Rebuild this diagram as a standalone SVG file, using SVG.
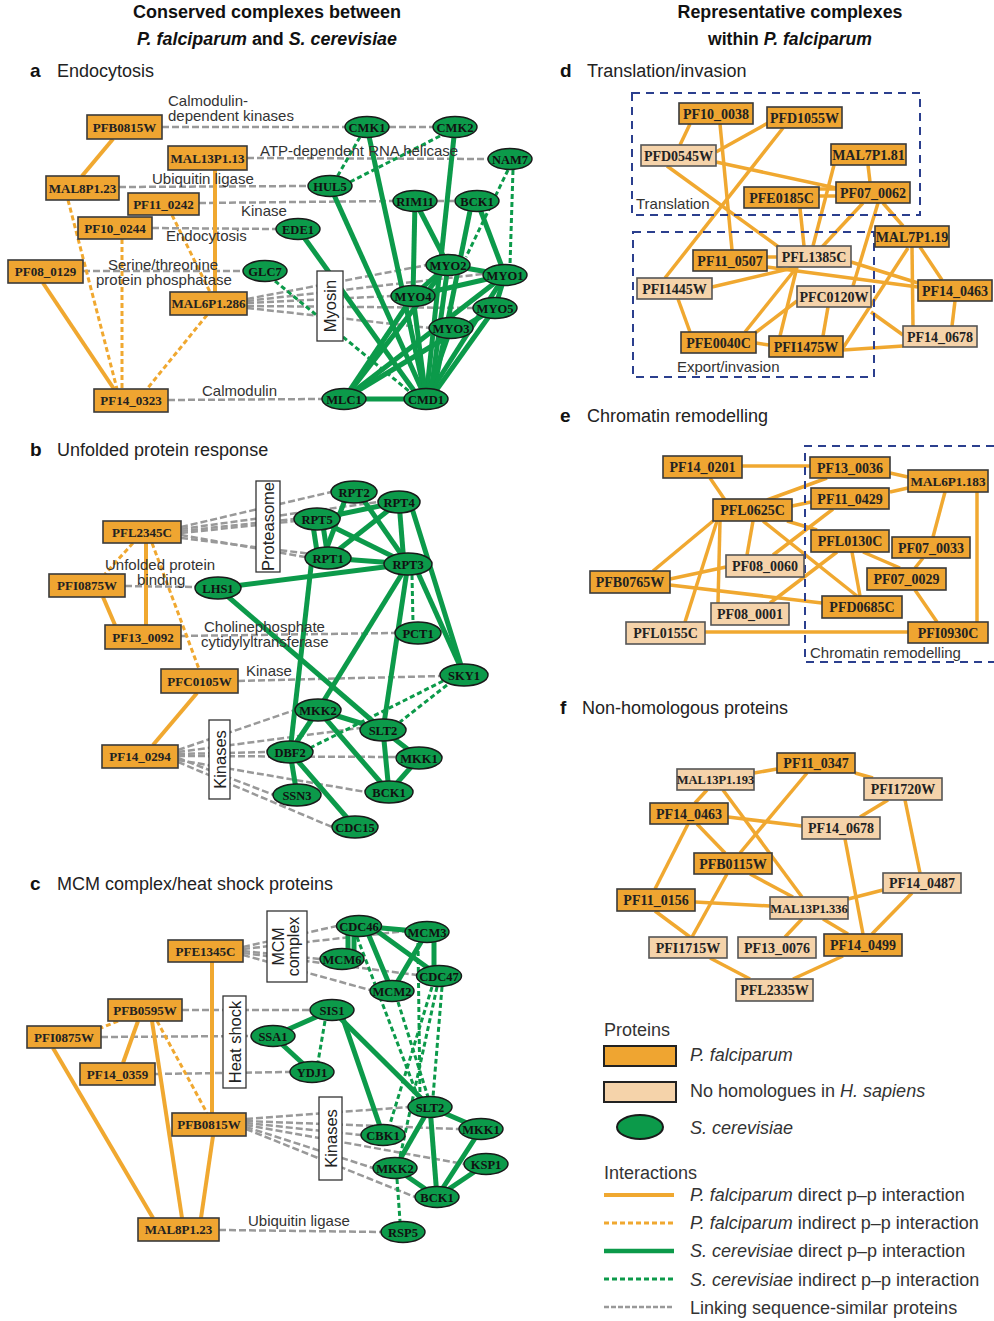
<svg xmlns="http://www.w3.org/2000/svg" width="994" height="1321" viewBox="0 0 994 1321">
<style>
.po{fill:#EFA531;stroke:#3a3a3a;stroke-width:1.6}
.pl{fill:#F5D3AA;stroke:#555;stroke-width:1.6}
.sc{fill:#0C9A4A;stroke:#1a1a1a;stroke-width:1.5}
.nt{font-family:"Liberation Serif","DejaVu Serif",serif;font-weight:bold;font-size:13px;fill:#222;text-anchor:middle}
.nt2{font-family:"Liberation Serif","DejaVu Serif",serif;font-weight:bold;font-size:14px;fill:#222;text-anchor:middle}
.et{font-family:"Liberation Serif","DejaVu Serif",serif;font-weight:bold;font-size:12.5px;fill:#111;text-anchor:middle}
.lab{font-family:"Liberation Sans",Arial,sans-serif;font-size:15px;fill:#333}
.rl{font-family:"Liberation Sans",Arial,sans-serif;font-size:16.5px;fill:#222;text-anchor:middle}
.box{fill:#fff;stroke:#333;stroke-width:1.3}
.head{font-family:"Liberation Sans",Arial,sans-serif;font-size:18px;font-weight:bold;fill:#111;text-anchor:middle}
.sec{font-family:"Liberation Sans",Arial,sans-serif;font-size:18px;fill:#222}
.secl{font-family:"Liberation Sans",Arial,sans-serif;font-size:19px;font-weight:bold;fill:#111}
.leg{font-family:"Liberation Sans",Arial,sans-serif;font-size:18px;fill:#333}
.od{stroke:#F0A830;stroke-width:4;fill:none}
.od2{stroke:#F0A830;stroke-width:3.5;fill:none}
.oi{stroke:#F0A830;stroke-width:3;stroke-dasharray:5 3;fill:none}
.gd{stroke:#0C9A4A;stroke-width:5;fill:none}
.gi{stroke:#0C9A4A;stroke-width:3;stroke-dasharray:5 3;fill:none}
.gr{stroke:#999;stroke-width:2.5;stroke-dasharray:7 3;fill:none}
.db{stroke:#2B3F8E;stroke-width:2;stroke-dasharray:8 6;fill:none}
</style>

<!-- Headings -->
<g id="headings">
<text class="head" x="267" y="18" textLength="268" lengthAdjust="spacingAndGlyphs">Conserved complexes between</text>
<text class="head" x="267" y="45" textLength="260" lengthAdjust="spacingAndGlyphs"><tspan font-style="italic">P. falciparum</tspan> and <tspan font-style="italic">S. cerevisiae</tspan></text>
<text class="head" x="790" y="18" textLength="225" lengthAdjust="spacingAndGlyphs">Representative complexes</text>
<text class="head" x="790" y="45" textLength="164" lengthAdjust="spacingAndGlyphs">within <tspan font-style="italic">P. falciparum</tspan></text>
<text class="secl" x="30" y="77">a</text><text class="sec" x="57" y="77">Endocytosis</text>
<text class="secl" x="30" y="456">b</text><text class="sec" x="57" y="456">Unfolded protein response</text>
<text class="secl" x="30" y="890">c</text><text class="sec" x="57" y="890">MCM complex/heat shock proteins</text>
<text class="secl" x="560" y="77">d</text><text class="sec" x="587" y="77">Translation/invasion</text>
<text class="secl" x="560" y="422">e</text><text class="sec" x="587" y="422">Chromatin remodelling</text>
<text class="secl" x="560" y="714">f</text><text class="sec" x="582" y="714">Non-homologous proteins</text>
</g>

<!-- Connectors -->
<g id="connectors">
<!-- panel a gray -->
<g class="gr">
<line x1="162" y1="127" x2="345" y2="127"/>
<line x1="389" y1="127" x2="433" y2="127"/>
<line x1="247" y1="158" x2="488" y2="159"/>
<line x1="119" y1="187" x2="308" y2="186"/>
<line x1="199" y1="203" x2="393" y2="201"/>
<line x1="437" y1="201" x2="455" y2="201"/>
<line x1="152" y1="228" x2="276" y2="229"/>
<line x1="83" y1="271" x2="243" y2="271"/>
<line x1="247" y1="299" x2="427" y2="265"/>
<line x1="247" y1="301" x2="483" y2="274"/>
<line x1="247" y1="303" x2="392" y2="296"/>
<line x1="247" y1="306" x2="473" y2="308"/>
<line x1="247" y1="308" x2="430" y2="328"/>
<line x1="168" y1="400" x2="322" y2="399"/>
</g>
<!-- panel a orange -->
<line class="od" x1="113" y1="139" x2="82" y2="176"/>
<line class="od" x1="215" y1="170" x2="215" y2="292"/>
<line class="od" x1="43" y1="283" x2="114" y2="389"/>
<line class="oi" x1="68" y1="200" x2="117" y2="389"/>
<line class="oi" x1="122" y1="239" x2="122" y2="389"/>
<line class="oi" x1="172" y1="215" x2="210" y2="292"/>
<line class="oi" x1="207" y1="315" x2="147" y2="389"/>
<!-- panel a green -->
<g class="gd">
<line x1="367" y1="127" x2="426" y2="399"/>
<line x1="455" y1="127" x2="426" y2="399"/>
<line x1="330" y1="186" x2="426" y2="399"/>
<line x1="298" y1="229" x2="420" y2="399"/>
<line x1="415" y1="201" x2="413" y2="296"/>
<line x1="415" y1="201" x2="448" y2="265"/>
<line x1="477" y1="201" x2="505" y2="275"/>
<line x1="472" y1="201" x2="432" y2="399"/>
<line x1="448" y1="265" x2="505" y2="275"/>
<line x1="448" y1="265" x2="413" y2="296"/>
<line x1="448" y1="265" x2="344" y2="399"/>
<line x1="448" y1="265" x2="430" y2="399"/>
<line x1="413" y1="296" x2="505" y2="275"/>
<line x1="413" y1="296" x2="344" y2="399"/>
<line x1="413" y1="296" x2="426" y2="399"/>
<line x1="505" y1="275" x2="344" y2="399"/>
<line x1="505" y1="275" x2="426" y2="399"/>
<line x1="505" y1="275" x2="495" y2="308"/>
<line x1="495" y1="308" x2="430" y2="399"/>
<line x1="495" y1="308" x2="344" y2="399"/>
<line x1="451" y1="328" x2="426" y2="399"/>
<line x1="344" y1="399" x2="426" y2="399"/>
</g>
<g class="gi">
<line x1="360" y1="137" x2="337" y2="177"/>
<line x1="440" y1="136" x2="350" y2="182"/>
<line x1="508" y1="170" x2="466" y2="257"/>
<line x1="513" y1="170" x2="510" y2="265"/>
<line x1="275" y1="281" x2="410" y2="392"/>
</g>

<!-- panel b gray -->
<g class="gr">
<line x1="181" y1="527" x2="331" y2="492"/>
<line x1="181" y1="529" x2="378" y2="502"/>
<line x1="181" y1="531" x2="294" y2="519"/>
<line x1="181" y1="533" x2="296" y2="521"/>
<line x1="181" y1="535" x2="305" y2="557"/>
<line x1="181" y1="538" x2="385" y2="563"/>
<line x1="125" y1="586" x2="195" y2="587"/>
<line x1="181" y1="636" x2="395" y2="633"/>
<line x1="238" y1="681" x2="441" y2="676"/>
<line x1="178" y1="750" x2="295" y2="710"/>
<line x1="178" y1="752" x2="360" y2="728"/>
<line x1="178" y1="754" x2="267" y2="752"/>
<line x1="178" y1="756" x2="396" y2="757"/>
<line x1="178" y1="758" x2="274" y2="795"/>
<line x1="178" y1="760" x2="366" y2="792"/>
<line x1="178" y1="762" x2="332" y2="827"/>
</g>
<!-- panel b orange -->
<line class="od" x1="146" y1="543" x2="146" y2="625"/>
<line class="od" x1="103" y1="597" x2="115" y2="625"/>
<line class="od" x1="197" y1="693" x2="153" y2="745"/>
<line class="oi" x1="133" y1="543" x2="105" y2="574"/>
<line class="oi" x1="152" y1="543" x2="199" y2="669"/>
<!-- panel b green -->
<g class="gd">
<line x1="348" y1="492" x2="323" y2="558"/>
<line x1="358" y1="492" x2="408" y2="564"/>
<line x1="312" y1="519" x2="318" y2="558"/>
<line x1="322" y1="519" x2="328" y2="558"/>
<line x1="317" y1="519" x2="408" y2="564"/>
<line x1="399" y1="502" x2="317" y2="519"/>
<line x1="399" y1="502" x2="328" y2="558"/>
<line x1="399" y1="502" x2="404" y2="564"/>
<line x1="410" y1="502" x2="464" y2="675"/>
<line x1="328" y1="558" x2="408" y2="564"/>
<line x1="312" y1="558" x2="290" y2="752"/>
<line x1="408" y1="564" x2="318" y2="710"/>
<line x1="408" y1="564" x2="383" y2="730"/>
<line x1="414" y1="564" x2="464" y2="675"/>
<line x1="218" y1="588" x2="408" y2="564"/>
<line x1="218" y1="588" x2="383" y2="730"/>
<line x1="318" y1="710" x2="383" y2="730"/>
<line x1="318" y1="710" x2="290" y2="752"/>
<line x1="318" y1="710" x2="389" y2="792"/>
<line x1="290" y1="752" x2="297" y2="795"/>
<line x1="290" y1="752" x2="355" y2="827"/>
<line x1="383" y1="730" x2="389" y2="792"/>
<line x1="383" y1="730" x2="419" y2="758"/>
<line x1="419" y1="758" x2="389" y2="792"/>
</g>
<g class="gi">
<line x1="412" y1="575" x2="413" y2="622"/>
<line x1="443" y1="681" x2="310" y2="748"/>
<line x1="447" y1="685" x2="400" y2="722"/>
</g>

<!-- panel c gray -->
<g class="gr">
<line x1="243" y1="947" x2="337" y2="926"/>
<line x1="243" y1="949" x2="406" y2="931"/>
<line x1="243" y1="951" x2="320" y2="959"/>
<line x1="243" y1="953" x2="417" y2="975"/>
<line x1="243" y1="955" x2="370" y2="990"/>
<line x1="182" y1="1010" x2="310" y2="1010"/>
<line x1="101" y1="1037" x2="251" y2="1036"/>
<line x1="155" y1="1074" x2="290" y2="1072"/>
<line x1="246" y1="1119" x2="408" y2="1107"/>
<line x1="246" y1="1121" x2="459" y2="1129"/>
<line x1="246" y1="1123" x2="361" y2="1135"/>
<line x1="246" y1="1125" x2="464" y2="1164"/>
<line x1="246" y1="1127" x2="373" y2="1168"/>
<line x1="246" y1="1129" x2="415" y2="1197"/>
<line x1="219" y1="1230" x2="381" y2="1232"/>
</g>
<!-- panel c orange -->
<line class="od" x1="212" y1="962" x2="212" y2="1113"/>
<line class="od" x1="138" y1="1021" x2="123" y2="1063"/>
<line class="od" x1="152" y1="1021" x2="182" y2="1218"/>
<line class="od" x1="53" y1="1048" x2="153" y2="1218"/>
<line class="od" x1="213" y1="1136" x2="201" y2="1218"/>
<line class="oi" x1="118" y1="1021" x2="101" y2="1028"/>
<line class="oi" x1="157" y1="1021" x2="207" y2="1113"/>
<!-- panel c green -->
<g class="gd">
<line x1="348" y1="930" x2="348" y2="955"/>
<line x1="354" y1="930" x2="354" y2="955"/>
<line x1="359" y1="926" x2="427" y2="932"/>
<line x1="365" y1="926" x2="392" y2="991"/>
<line x1="370" y1="926" x2="439" y2="976"/>
<line x1="427" y1="932" x2="392" y2="991"/>
<line x1="434" y1="932" x2="434" y2="976"/>
<line x1="332" y1="1010" x2="273" y2="1036"/>
<line x1="273" y1="1036" x2="312" y2="1072"/>
<line x1="340" y1="1010" x2="383" y2="1135"/>
<line x1="332" y1="1010" x2="430" y2="1107"/>
<line x1="430" y1="1107" x2="481" y2="1129"/>
<line x1="430" y1="1107" x2="395" y2="1168"/>
<line x1="430" y1="1107" x2="437" y2="1197"/>
<line x1="481" y1="1129" x2="437" y2="1197"/>
<line x1="486" y1="1164" x2="437" y2="1197"/>
<line x1="395" y1="1168" x2="437" y2="1197"/>
</g>
<g class="gi">
<line x1="325" y1="1021" x2="318" y2="1062"/>
<line x1="357" y1="937" x2="418" y2="1097"/>
<line x1="398" y1="1002" x2="428" y2="1097"/>
<line x1="418" y1="943" x2="420" y2="1097"/>
<line x1="432" y1="987" x2="390" y2="1124"/>
<line x1="437" y1="987" x2="400" y2="1157"/>
<line x1="442" y1="987" x2="433" y2="1097"/>
<line x1="397" y1="1179" x2="400" y2="1221"/>
</g>

<!-- panel d -->
<g class="od2">
<line x1="690" y1="124" x2="680" y2="145"/>
<line x1="720" y1="124" x2="732" y2="250"/>
<line x1="768" y1="123" x2="716" y2="152"/>
<line x1="783" y1="128" x2="665" y2="278"/>
<line x1="716" y1="162" x2="836" y2="188"/>
<line x1="667" y1="166" x2="780" y2="248"/>
<line x1="868" y1="165" x2="870" y2="182"/>
<line x1="834" y1="165" x2="813" y2="246"/>
<line x1="819" y1="189" x2="836" y2="189"/>
<line x1="819" y1="196" x2="836" y2="196"/>
<line x1="800" y1="208" x2="804" y2="246"/>
<line x1="863" y1="203" x2="822" y2="247"/>
<line x1="878" y1="203" x2="853" y2="286"/>
<line x1="883" y1="203" x2="903" y2="226"/>
<line x1="920" y1="247" x2="942" y2="280"/>
<line x1="912" y1="247" x2="913" y2="326"/>
<line x1="908" y1="248" x2="843" y2="348"/>
<line x1="767" y1="257" x2="777" y2="257"/>
<line x1="767" y1="267" x2="918" y2="287"/>
<line x1="851" y1="262" x2="918" y2="283"/>
<line x1="797" y1="267" x2="712" y2="287"/>
<line x1="797" y1="267" x2="745" y2="332"/>
<line x1="797" y1="267" x2="780" y2="336"/>
<line x1="678" y1="299" x2="690" y2="332"/>
<line x1="797" y1="301" x2="755" y2="333"/>
<line x1="828" y1="307" x2="823" y2="336"/>
<line x1="871" y1="312" x2="903" y2="335"/>
<line x1="756" y1="343" x2="769" y2="345"/>
<line x1="843" y1="350" x2="903" y2="346"/>
<line x1="955" y1="301" x2="952" y2="326"/>
</g>
<!-- panel e -->
<g class="od2">
<line x1="742" y1="466" x2="810" y2="466"/>
<line x1="710" y1="478" x2="725" y2="500"/>
<line x1="827" y1="478" x2="767" y2="500"/>
<line x1="890" y1="473" x2="908" y2="477"/>
<line x1="890" y1="492" x2="908" y2="488"/>
<line x1="811" y1="502" x2="792" y2="506"/>
<line x1="833" y1="509" x2="773" y2="555"/>
<line x1="787" y1="521" x2="817" y2="530"/>
<line x1="753" y1="521" x2="747" y2="555"/>
<line x1="763" y1="521" x2="857" y2="596"/>
<line x1="713" y1="521" x2="653" y2="571"/>
<line x1="720" y1="521" x2="718" y2="603"/>
<line x1="717" y1="521" x2="685" y2="622"/>
<line x1="670" y1="579" x2="726" y2="567"/>
<line x1="670" y1="585" x2="822" y2="603"/>
<line x1="837" y1="552" x2="770" y2="603"/>
<line x1="852" y1="552" x2="860" y2="596"/>
<line x1="863" y1="552" x2="900" y2="568"/>
<line x1="945" y1="492" x2="933" y2="537"/>
<line x1="977" y1="492" x2="977" y2="622"/>
<line x1="923" y1="558" x2="915" y2="568"/>
<line x1="915" y1="590" x2="937" y2="622"/>
<line x1="705" y1="632" x2="908" y2="632"/>
</g>
<!-- panel f -->
<g class="od2">
<line x1="754" y1="773" x2="777" y2="769"/>
<line x1="855" y1="773" x2="873" y2="778"/>
<line x1="807" y1="773" x2="740" y2="853"/>
<line x1="707" y1="790" x2="695" y2="803"/>
<line x1="723" y1="790" x2="802" y2="897"/>
<line x1="728" y1="817" x2="802" y2="826"/>
<line x1="697" y1="824" x2="725" y2="853"/>
<line x1="688" y1="824" x2="655" y2="889"/>
<line x1="888" y1="800" x2="860" y2="817"/>
<line x1="905" y1="800" x2="920" y2="873"/>
<line x1="845" y1="839" x2="863" y2="934"/>
<line x1="750" y1="874" x2="793" y2="897"/>
<line x1="727" y1="874" x2="692" y2="937"/>
<line x1="695" y1="902" x2="770" y2="906"/>
<line x1="655" y1="911" x2="690" y2="937"/>
<line x1="883" y1="890" x2="848" y2="899"/>
<line x1="912" y1="893" x2="872" y2="934"/>
<line x1="802" y1="919" x2="785" y2="937"/>
<line x1="823" y1="919" x2="848" y2="934"/>
<line x1="710" y1="958" x2="750" y2="979"/>
<line x1="843" y1="956" x2="793" y2="979"/>
</g>
</g>

<!-- Group label boxes -->
<g id="groups">
<rect class="box" x="317" y="271" width="26" height="70"/>
<text class="rl" transform="translate(330,306) rotate(-90)" y="6">Myosin</text>
<rect class="box" x="256" y="481" width="24" height="91"/>
<text class="rl" transform="translate(268,526.5) rotate(-90)" y="6">Proteasome</text>
<rect class="box" x="209" y="720" width="21" height="79"/>
<text class="rl" transform="translate(219.5,759.5) rotate(-90)" y="6">Kinases</text>
<rect class="box" x="267" y="911" width="40" height="71"/>
<g transform="translate(287,946.5) rotate(-90)"><text class="rl" y="-3" style="font-size:16px">MCM</text><text class="rl" y="12" style="font-size:16px">complex</text></g>
<rect class="box" x="223" y="996" width="23" height="92"/>
<text class="rl" transform="translate(234.5,1042) rotate(-90)" y="6">Heat shock</text>
<rect class="box" x="319" y="1097" width="23" height="83"/>
<text class="rl" transform="translate(330.5,1138.5) rotate(-90)" y="6">Kinases</text>
<rect class="db" x="632" y="93" width="288" height="122"/>
<rect class="db" x="633" y="232" width="241" height="145"/>
<path class="db" d="M994,446 H805 V662 H994"/>
<text class="lab" x="636" y="209">Translation</text>
<text class="lab" x="677" y="372">Export/invasion</text>
<text class="lab" x="810" y="658">Chromatin remodelling</text>
</g>

<!-- Panel a nodes -->
<g id="a-PFB0815W"><rect class="po" x="87" y="115" width="75" height="24"/><text class="nt" x="124.5" y="131.5">PFB0815W</text></g>
<g id="a-MAL13P1.13"><rect class="po" x="168" y="146" width="79" height="24"/><text class="nt" x="207.5" y="162.5">MAL13P1.13</text></g>
<g id="a-MAL8P1.23"><rect class="po" x="46" y="176" width="73" height="24"/><text class="nt" x="82.5" y="192.5">MAL8P1.23</text></g>
<g id="a-PF11_0242"><rect class="po" x="128" y="193" width="71" height="22"/><text class="nt" x="163.5" y="208.5">PF11_0242</text></g>
<g id="a-PF10_0244"><rect class="po" x="78" y="217" width="74" height="22"/><text class="nt" x="115" y="232.5">PF10_0244</text></g>
<g id="a-PF08_0129"><rect class="po" x="8" y="260" width="75" height="23"/><text class="nt" x="45.5" y="276">PF08_0129</text></g>
<g id="a-MAL6P1.286"><rect class="po" x="170" y="292" width="77" height="23"/><text class="nt" x="208.5" y="308">MAL6P1.286</text></g>
<g id="a-PF14_0323"><rect class="po" x="94" y="389" width="74" height="23"/><text class="nt" x="131" y="405">PF14_0323</text></g>
<g id="a-CMK1"><ellipse class="sc" cx="367" cy="127" rx="22" ry="10.5"/><text class="et" x="367" y="131.5">CMK1</text></g>
<g id="a-CMK2"><ellipse class="sc" cx="455" cy="127" rx="22" ry="10.5"/><text class="et" x="455" y="131.5">CMK2</text></g>
<g id="a-NAM7"><ellipse class="sc" cx="510" cy="159" rx="22" ry="10.5"/><text class="et" x="510" y="163.5">NAM7</text></g>
<g id="a-HUL5"><ellipse class="sc" cx="330" cy="186" rx="22" ry="10.5"/><text class="et" x="330" y="190.5">HUL5</text></g>
<g id="a-RIM11"><ellipse class="sc" cx="415" cy="201" rx="22" ry="10.5"/><text class="et" x="415" y="205.5">RIM11</text></g>
<g id="a-BCK1"><ellipse class="sc" cx="477" cy="201" rx="22" ry="10.5"/><text class="et" x="477" y="205.5">BCK1</text></g>
<g id="a-EDE1"><ellipse class="sc" cx="298" cy="229" rx="22" ry="10.5"/><text class="et" x="298" y="233.5">EDE1</text></g>
<g id="a-GLC7"><ellipse class="sc" cx="265" cy="271" rx="22" ry="10.5"/><text class="et" x="265" y="275.5">GLC7</text></g>
<g id="a-MYO2"><ellipse class="sc" cx="448" cy="265" rx="22" ry="10.5"/><text class="et" x="448" y="269.5">MYO2</text></g>
<g id="a-MYO1"><ellipse class="sc" cx="505" cy="275" rx="22" ry="10.5"/><text class="et" x="505" y="279.5">MYO1</text></g>
<g id="a-MYO4"><ellipse class="sc" cx="413" cy="296" rx="22" ry="10.5"/><text class="et" x="413" y="300.5">MYO4</text></g>
<g id="a-MYO5"><ellipse class="sc" cx="495" cy="308" rx="22" ry="10.5"/><text class="et" x="495" y="312.5">MYO5</text></g>
<g id="a-MYO3"><ellipse class="sc" cx="451" cy="328" rx="22" ry="10.5"/><text class="et" x="451" y="332.5">MYO3</text></g>
<g id="a-MLC1"><ellipse class="sc" cx="344" cy="399" rx="22" ry="10.5"/><text class="et" x="344" y="403.5">MLC1</text></g>
<g id="a-CMD1"><ellipse class="sc" cx="426" cy="399" rx="22" ry="10.5"/><text class="et" x="426" y="403.5">CMD1</text></g>

<!-- Panel b nodes -->
<g id="b-PFL2345C"><rect class="po" x="103" y="521" width="78" height="22"/><text class="nt" x="142" y="536.5">PFL2345C</text></g>
<g id="b-PFI0875W"><rect class="po" x="49" y="574" width="76" height="23"/><text class="nt" x="87" y="590">PFI0875W</text></g>
<g id="b-PF13_0092"><rect class="po" x="105" y="625" width="76" height="24"/><text class="nt" x="143" y="641.5">PF13_0092</text></g>
<g id="b-PFC0105W"><rect class="po" x="161" y="669" width="77" height="24"/><text class="nt" x="199.5" y="685.5">PFC0105W</text></g>
<g id="b-PF14_0294"><rect class="po" x="102" y="745" width="76" height="23"/><text class="nt" x="140" y="761">PF14_0294</text></g>
<g id="b-RPT2"><ellipse class="sc" cx="354" cy="492" rx="23" ry="11"/><text class="et" x="354" y="496.5">RPT2</text></g>
<g id="b-RPT4"><ellipse class="sc" cx="399" cy="502" rx="21" ry="11"/><text class="et" x="399" y="506.5">RPT4</text></g>
<g id="b-RPT5"><ellipse class="sc" cx="317" cy="519" rx="23" ry="11"/><text class="et" x="317" y="523.5">RPT5</text></g>
<g id="b-RPT1"><ellipse class="sc" cx="328" cy="558" rx="23" ry="11"/><text class="et" x="328" y="562.5">RPT1</text></g>
<g id="b-RPT3"><ellipse class="sc" cx="408" cy="564" rx="24" ry="11"/><text class="et" x="408" y="568.5">RPT3</text></g>
<g id="b-LHS1"><ellipse class="sc" cx="218" cy="588" rx="23" ry="11"/><text class="et" x="218" y="592.5">LHS1</text></g>
<g id="b-PCT1"><ellipse class="sc" cx="418" cy="633" rx="23" ry="11"/><text class="et" x="418" y="637.5">PCT1</text></g>
<g id="b-SKY1"><ellipse class="sc" cx="464" cy="675" rx="24" ry="11"/><text class="et" x="464" y="679.5">SKY1</text></g>
<g id="b-MKK2"><ellipse class="sc" cx="318" cy="710" rx="23" ry="11"/><text class="et" x="318" y="714.5">MKK2</text></g>
<g id="b-SLT2"><ellipse class="sc" cx="383" cy="730" rx="23" ry="11"/><text class="et" x="383" y="734.5">SLT2</text></g>
<g id="b-DBF2"><ellipse class="sc" cx="290" cy="752" rx="23" ry="11"/><text class="et" x="290" y="756.5">DBF2</text></g>
<g id="b-MKK1"><ellipse class="sc" cx="419" cy="758" rx="23" ry="11"/><text class="et" x="419" y="762.5">MKK1</text></g>
<g id="b-SSN3"><ellipse class="sc" cx="297" cy="795" rx="24" ry="11"/><text class="et" x="297" y="799.5">SSN3</text></g>
<g id="b-BCK1"><ellipse class="sc" cx="389" cy="792" rx="24" ry="11"/><text class="et" x="389" y="796.5">BCK1</text></g>
<g id="b-CDC15"><ellipse class="sc" cx="355" cy="827" rx="23" ry="11"/><text class="et" x="355" y="831.5">CDC15</text></g>

<!-- Panel c nodes -->
<g id="c-PFE1345C"><rect class="po" x="168" y="940" width="75" height="22"/><text class="nt" x="205.5" y="955.5">PFE1345C</text></g>
<g id="c-PFB0595W"><rect class="po" x="108" y="999" width="74" height="22"/><text class="nt" x="145" y="1014.5">PFB0595W</text></g>
<g id="c-PFI0875W"><rect class="po" x="27" y="1026" width="74" height="22"/><text class="nt" x="64" y="1041.5">PFI0875W</text></g>
<g id="c-PF14_0359"><rect class="po" x="80" y="1063" width="75" height="22"/><text class="nt" x="117.5" y="1078.5">PF14_0359</text></g>
<g id="c-PFB0815W"><rect class="po" x="172" y="1113" width="74" height="23"/><text class="nt" x="209" y="1129">PFB0815W</text></g>
<g id="c-MAL8P1.23"><rect class="po" x="138" y="1218" width="81" height="23"/><text class="nt" x="178.5" y="1234">MAL8P1.23</text></g>
<g id="c-CDC46"><ellipse class="sc" cx="359" cy="926" rx="22.5" ry="10.5"/><text class="et" x="359" y="930.5">CDC46</text></g>
<g id="c-MCM3"><ellipse class="sc" cx="427" cy="932" rx="22" ry="10.5"/><text class="et" x="427" y="936.5">MCM3</text></g>
<g id="c-MCM6"><ellipse class="sc" cx="342" cy="959" rx="22" ry="10.5"/><text class="et" x="342" y="963.5">MCM6</text></g>
<g id="c-CDC47"><ellipse class="sc" cx="439" cy="976" rx="22.5" ry="10.5"/><text class="et" x="439" y="980.5">CDC47</text></g>
<g id="c-MCM2"><ellipse class="sc" cx="392" cy="991" rx="22" ry="10.5"/><text class="et" x="392" y="995.5">MCM2</text></g>
<g id="c-SIS1"><ellipse class="sc" cx="332" cy="1010" rx="22" ry="10.5"/><text class="et" x="332" y="1014.5">SIS1</text></g>
<g id="c-SSA1"><ellipse class="sc" cx="273" cy="1036" rx="22" ry="10.5"/><text class="et" x="273" y="1040.5">SSA1</text></g>
<g id="c-YDJ1"><ellipse class="sc" cx="312" cy="1072" rx="22" ry="10.5"/><text class="et" x="312" y="1076.5">YDJ1</text></g>
<g id="c-SLT2"><ellipse class="sc" cx="430" cy="1107" rx="22" ry="10.5"/><text class="et" x="430" y="1111.5">SLT2</text></g>
<g id="c-MKK1"><ellipse class="sc" cx="481" cy="1129" rx="22" ry="10.5"/><text class="et" x="481" y="1133.5">MKK1</text></g>
<g id="c-CBK1"><ellipse class="sc" cx="383" cy="1135" rx="22" ry="10.5"/><text class="et" x="383" y="1139.5">CBK1</text></g>
<g id="c-KSP1"><ellipse class="sc" cx="486" cy="1164" rx="22" ry="10.5"/><text class="et" x="486" y="1168.5">KSP1</text></g>
<g id="c-MKK2"><ellipse class="sc" cx="395" cy="1168" rx="22" ry="10.5"/><text class="et" x="395" y="1172.5">MKK2</text></g>
<g id="c-BCK1"><ellipse class="sc" cx="437" cy="1197" rx="22" ry="10.5"/><text class="et" x="437" y="1201.5">BCK1</text></g>
<g id="c-RSP5"><ellipse class="sc" cx="403" cy="1232" rx="22" ry="10.5"/><text class="et" x="403" y="1236.5">RSP5</text></g>

<!-- Panel d nodes -->
<g id="d-PF10_0038"><rect class="po" x="679" y="103" width="74" height="21"/><text class="nt2" x="716" y="118.5">PF10_0038</text></g>
<g id="d-PFD1055W"><rect class="po" x="767" y="107" width="75" height="21"/><text class="nt2" x="804.5" y="122.5">PFD1055W</text></g>
<g id="d-PFD0545W"><rect class="pl" x="641" y="145" width="75" height="21"/><text class="nt2" x="678.5" y="160.5">PFD0545W</text></g>
<g id="d-MAL7P1.81"><rect class="po" x="831" y="144" width="75" height="21"/><text class="nt2" x="868.5" y="159.5">MAL7P1.81</text></g>
<g id="d-PFE0185C"><rect class="po" x="744" y="187" width="75" height="21"/><text class="nt2" x="781.5" y="202.5">PFE0185C</text></g>
<g id="d-PF07_0062"><rect class="po" x="836" y="182" width="74" height="21"/><text class="nt2" x="873" y="197.5">PF07_0062</text></g>
<g id="d-MAL7P1.19"><rect class="po" x="875" y="226" width="74" height="21"/><text class="nt2" x="912" y="241.5">MAL7P1.19</text></g>
<g id="d-PF11_0507"><rect class="po" x="693" y="250" width="74" height="21"/><text class="nt2" x="730" y="265.5">PF11_0507</text></g>
<g id="d-PFL1385C"><rect class="pl" x="777" y="246" width="74" height="21"/><text class="nt2" x="814" y="261.5">PFL1385C</text></g>
<g id="d-PFI1445W"><rect class="pl" x="637" y="278" width="75" height="21"/><text class="nt2" x="674.5" y="293.5">PFI1445W</text></g>
<g id="d-PF14_0463"><rect class="po" x="918" y="280" width="74" height="21"/><text class="nt2" x="955" y="295.5">PF14_0463</text></g>
<g id="d-PFC0120W"><rect class="pl" x="797" y="286" width="74" height="21"/><text class="nt2" x="834" y="301.5">PFC0120W</text></g>
<g id="d-PF14_0678"><rect class="pl" x="903" y="326" width="74" height="21"/><text class="nt2" x="940" y="341.5">PF14_0678</text></g>
<g id="d-PFE0040C"><rect class="po" x="681" y="332" width="75" height="21"/><text class="nt2" x="718.5" y="347.5">PFE0040C</text></g>
<g id="d-PFI1475W"><rect class="po" x="769" y="336" width="74" height="21"/><text class="nt2" x="806" y="351.5">PFI1475W</text></g>

<!-- Panel e nodes -->
<g id="e-PF14_0201"><rect class="po" x="663" y="456" width="79" height="22"/><text class="nt2" x="702.5" y="472">PF14_0201</text></g>
<g id="e-PF13_0036"><rect class="po" x="810" y="457" width="80" height="21"/><text class="nt2" x="850" y="472.5">PF13_0036</text></g>
<g id="e-MAL6P1.183"><rect class="po" x="908" y="470" width="80" height="22"/><text class="nt2" x="948" y="486" style="font-size:13.2px">MAL6P1.183</text></g>
<g id="e-PF11_0429"><rect class="po" x="811" y="488" width="78" height="21"/><text class="nt2" x="850" y="503.5">PF11_0429</text></g>
<g id="e-PFL0625C"><rect class="po" x="713" y="499" width="79" height="22"/><text class="nt2" x="752.5" y="515">PFL0625C</text></g>
<g id="e-PFL0130C"><rect class="po" x="811" y="530" width="78" height="22"/><text class="nt2" x="850" y="546">PFL0130C</text></g>
<g id="e-PF07_0033"><rect class="po" x="892" y="537" width="78" height="21"/><text class="nt2" x="931" y="552.5">PF07_0033</text></g>
<g id="e-PF08_0060"><rect class="pl" x="726" y="555" width="78" height="22"/><text class="nt2" x="765" y="571">PF08_0060</text></g>
<g id="e-PFB0765W"><rect class="po" x="590" y="571" width="80" height="22"/><text class="nt2" x="630" y="587">PFB0765W</text></g>
<g id="e-PF07_0029"><rect class="po" x="867" y="568" width="79" height="22"/><text class="nt2" x="906.5" y="584">PF07_0029</text></g>
<g id="e-PFD0685C"><rect class="po" x="822" y="596" width="80" height="22"/><text class="nt2" x="862" y="612">PFD0685C</text></g>
<g id="e-PF08_0001"><rect class="pl" x="711" y="603" width="78" height="22"/><text class="nt2" x="750" y="619">PF08_0001</text></g>
<g id="e-PFL0155C"><rect class="pl" x="626" y="622" width="79" height="22"/><text class="nt2" x="665.5" y="638">PFL0155C</text></g>
<g id="e-PFI0930C"><rect class="po" x="908" y="622" width="80" height="21"/><text class="nt2" x="948" y="637.5">PFI0930C</text></g>

<!-- Panel f nodes -->
<g id="f-MAL13P1.193"><rect class="pl" x="677" y="769" width="77" height="21"/><text class="nt2" x="715.5" y="784" style="font-size:12.5px">MAL13P1.193</text></g>
<g id="f-PF11_0347"><rect class="po" x="777" y="753" width="78" height="20"/><text class="nt2" x="816" y="768">PF11_0347</text></g>
<g id="f-PFI1720W"><rect class="pl" x="864" y="778" width="78" height="22"/><text class="nt2" x="903" y="794">PFI1720W</text></g>
<g id="f-PF14_0463"><rect class="po" x="650" y="803" width="78" height="21"/><text class="nt2" x="689" y="818.5">PF14_0463</text></g>
<g id="f-PF14_0678"><rect class="pl" x="802" y="817" width="78" height="22"/><text class="nt2" x="841" y="833">PF14_0678</text></g>
<g id="f-PFB0115W"><rect class="po" x="694" y="853" width="78" height="21"/><text class="nt2" x="733" y="868.5">PFB0115W</text></g>
<g id="f-PF14_0487"><rect class="pl" x="883" y="873" width="78" height="20"/><text class="nt2" x="922" y="888">PF14_0487</text></g>
<g id="f-PF11_0156"><rect class="po" x="617" y="889" width="78" height="22"/><text class="nt2" x="656" y="905">PF11_0156</text></g>
<g id="f-MAL13P1.336"><rect class="pl" x="770" y="897" width="78" height="22"/><text class="nt2" x="809" y="912.5" style="font-size:12.5px">MAL13P1.336</text></g>
<g id="f-PFI1715W"><rect class="pl" x="649" y="937" width="78" height="21"/><text class="nt2" x="688" y="952.5">PFI1715W</text></g>
<g id="f-PF13_0076"><rect class="pl" x="738" y="937" width="78" height="21"/><text class="nt2" x="777" y="952.5">PF13_0076</text></g>
<g id="f-PF14_0499"><rect class="po" x="824" y="934" width="78" height="22"/><text class="nt2" x="863" y="950">PF14_0499</text></g>
<g id="f-PFL2335W"><rect class="pl" x="736" y="979" width="77" height="22"/><text class="nt2" x="774.5" y="995">PFL2335W</text></g>

<!-- Annotation labels -->
<g id="annotations" class="lab">
<text x="168" y="106">Calmodulin-</text>
<text x="168" y="121">dependent kinases</text>
<text x="260" y="156">ATP-dependent RNA helicase</text>
<text x="152" y="184">Ubiquitin ligase</text>
<text x="241" y="216">Kinase</text>
<text x="166" y="241">Endocytosis</text>
<text x="108" y="270">Serine/threonine</text>
<text x="96" y="285">protein phosphatase</text>
<text x="202" y="396">Calmodulin</text>
<text x="105" y="570">Unfolded protein</text>
<text x="137" y="585">binding</text>
<text x="204" y="632">Cholinephosphate</text>
<text x="201" y="647">cytidylyltransferase</text>
<text x="246" y="676">Kinase</text>
<text x="248" y="1226">Ubiquitin ligase</text>
</g>

<!-- Legend -->
<g id="legend">
<text class="leg" x="604" y="1036">Proteins</text>
<rect class="po" x="604" y="1046" width="72" height="20" style="stroke:#222;stroke-width:2"/>
<text class="leg" x="690" y="1061" font-style="italic">P. falciparum</text>
<rect class="pl" x="604" y="1082" width="72" height="20" style="stroke:#222;stroke-width:2"/>
<text class="leg" x="690" y="1097">No homologues in <tspan font-style="italic">H. sapiens</tspan></text>
<ellipse class="sc" cx="640" cy="1127" rx="23" ry="12" style="stroke-width:2"/>
<text class="leg" x="690" y="1134" font-style="italic">S. cerevisiae</text>
<text class="leg" x="604" y="1179">Interactions</text>
<line class="od" x1="604" y1="1195" x2="674" y2="1195"/>
<line class="oi" x1="604" y1="1223" x2="674" y2="1223"/>
<line class="gd" x1="604" y1="1251" x2="674" y2="1251" style="stroke-width:4.5"/>
<line class="gi" x1="604" y1="1279" x2="674" y2="1279"/>
<line class="gr" x1="604" y1="1307" x2="674" y2="1307" style="stroke-dasharray:5 2"/>
<text class="leg" x="690" y="1201"><tspan font-style="italic">P. falciparum</tspan> direct p–p interaction</text>
<text class="leg" x="690" y="1229"><tspan font-style="italic">P. falciparum</tspan> indirect p–p interaction</text>
<text class="leg" x="690" y="1257"><tspan font-style="italic">S. cerevisiae</tspan> direct p–p interaction</text>
<text class="leg" x="690" y="1286"><tspan font-style="italic">S. cerevisiae</tspan> indirect p–p interaction</text>
<text class="leg" x="690" y="1314">Linking sequence-similar proteins</text>
</g>
</svg>
